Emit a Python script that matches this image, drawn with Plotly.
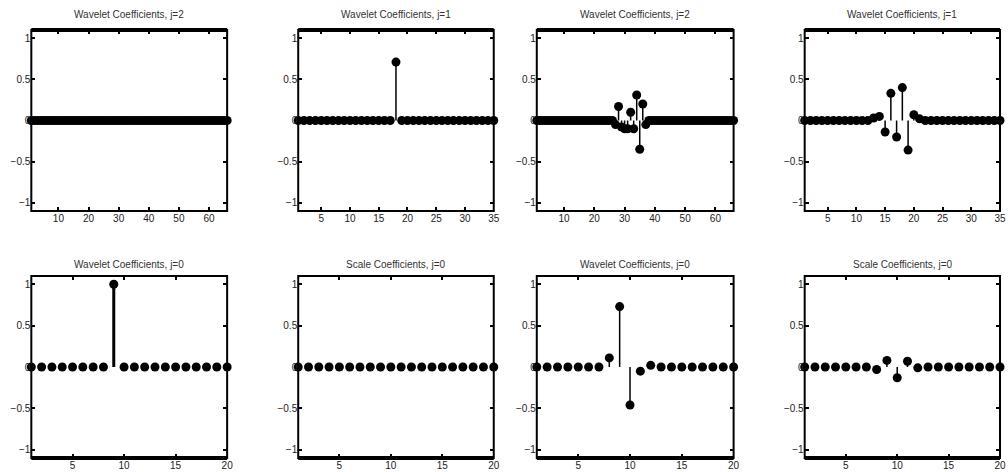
import plotly.graph_objects as go

# ---------------- data ----------------
titles = [
    "Wavelet Coefficients, j=2", "Wavelet Coefficients, j=1",
    "Wavelet Coefficients, j=2", "Wavelet Coefficients, j=1",
    "Wavelet Coefficients, j=0", "Scale Coefficients, j=0",
    "Wavelet Coefficients, j=0", "Scale Coefficients, j=0",
]

w2_a = [0, 0, 0, 0, 0, 0, 0, 0, 0, 0, 0, 0, 0, 0, 0, 0, 0, 0, 0, 0, 0, 0,
        0, 0, 0, 0, 0, 0, 0, 0, 0, 0, 0, 0, 0, 0, 0, 0, 0, 0, 0, 0, 0, 0,
        0, 0, 0, 0, 0, 0, 0, 0, 0, 0, 0, 0, 0, 0, 0, 0, 0, 0, 0, 0, 0, 0]
w1_a = [0, 0, 0, 0, 0, 0, 0, 0, 0, 0, 0, 0, 0, 0, 0, 0, 0, 0.71, 0, 0,
        0, 0, 0, 0, 0, 0, 0, 0, 0, 0, 0, 0, 0, 0, 0]
w2_b = [0, 0, 0, 0, 0, 0, 0, 0, 0, 0, 0, 0, 0, 0, 0, 0, 0, 0, 0, 0, 0, 0,
        0, 0, 0, 0, -0.05, 0.17, -0.08, -0.1, -0.1, 0.1, -0.1, 0.31, -0.35, 0.2, -0.05, 0, 0, 0, 0, 0, 0, 0,
        0, 0, 0, 0, 0, 0, 0, 0, 0, 0, 0, 0, 0, 0, 0, 0, 0, 0, 0, 0, 0, 0]
w1_b = [0, 0, 0, 0, 0, 0, 0, 0, 0, 0, 0, 0, 0.03, 0.05, -0.14, 0.33, -0.2, 0.4, -0.36, 0.07,
        0.02, 0, 0, 0, 0, 0, 0, 0, 0, 0, 0, 0, 0, 0, 0]
w0_a = [0, 0, 0, 0, 0, 0, 0, 0, 1.0, 0, 0, 0, 0, 0, 0, 0, 0, 0, 0, 0]
s0_a = [0, 0, 0, 0, 0, 0, 0, 0, 0, 0, 0, 0, 0, 0, 0, 0, 0, 0, 0, 0]
w0_b = [0, 0, 0, 0, 0, 0, 0, 0.11, 0.73, -0.46, -0.05, 0.02, 0, 0, 0, 0, 0, 0, 0, 0]
s0_b = [0, 0, 0, 0, 0, 0, 0, -0.03, 0.08, -0.13, 0.07, -0.01, 0, 0, 0, 0, 0, 0, 0, 0]

series = [w2_a, w1_a, w2_b, w1_b, w0_a, s0_a, w0_b, s0_b]
xticks = [
    [10, 20, 30, 40, 50, 60], [5, 10, 15, 20, 25, 30, 35],
    [10, 20, 30, 40, 50, 60], [5, 10, 15, 20, 25, 30, 35],
    [5, 10, 15, 20], [5, 10, 15, 20], [5, 10, 15, 20], [5, 10, 15, 20],
]
yticks = [-1, -0.5, 0, 0.5, 1]

# ---------------- layout geometry ----------------
W, H = 1008, 472
col_px = [(31.5, 228.5), (300, 496.7), (540, 738), (809.5, 1006)]
row_px = [(30, 211), (276, 458)]
title_gap = [16, 12]
stem_w = [1.5, 1.5, 1.5, 1.5, 3, 1.5, 1.5, 1.5]

fig = go.Figure()
layout = dict(
    width=W, height=H, margin=dict(l=0, r=0, t=0, b=0),
    paper_bgcolor="white", plot_bgcolor="white", showlegend=False,
    font=dict(family="Liberation Sans, Arial, sans-serif", size=10, color="#222"),
)
annotations = []
shapes = []

for k, vals in enumerate(series):
    r, c = divmod(k, 4)
    xs = list(range(1, len(vals) + 1))
    ax = "" if k == 0 else str(k + 1)
    xa, ya = "x" + ax, "y" + ax

    sx, sy = [], []
    for x, v in zip(xs, vals):
        if v != 0:
            sx += [x, x, None]
            sy += [0, v, None]
    fig.add_trace(go.Scatter(x=sx, y=sy, mode="lines", xaxis=xa, yaxis=ya,
                             line=dict(color="black", width=stem_w[k]),
                             hoverinfo="skip", cliponaxis=False))
    fig.add_trace(go.Scatter(x=xs, y=vals, mode="markers", xaxis=xa, yaxis=ya,
                             marker=dict(symbol="circle", size=9, color="black"),
                             cliponaxis=False))

    x0, x1 = col_px[c]
    y0, y1 = row_px[r]
    xd = [x0 / W, x1 / W]
    yd = [1 - y1 / H, 1 - y0 / H]
    common = dict(showline=False, mirror="allticks",
                  ticks="inside", ticklen=4, tickwidth=1.5, tickcolor="black",
                  showgrid=False, zeroline=False,
                  tickfont=dict(size=10, color="#222"))
    layout["xaxis" + ax] = dict(domain=xd, anchor=ya, range=[1, len(vals)],
                                tickvals=xticks[k], **common)
    layout["yaxis" + ax] = dict(domain=yd, anchor=xa, range=[-1.1, 1.1],
                                tickvals=yticks, **common)

    annotations.append(dict(text=titles[k], xref="paper", yref="paper",
                            x=(x0 + x1) / 2 / W, y=1 - (y0 - title_gap[r]) / H,
                            xanchor="center", yanchor="middle", showarrow=False,
                            font=dict(size=10, color="#333")))
    # axes frame
    shapes.append(dict(type="rect", xref=xa + " domain", yref=ya + " domain",
                       x0=0, x1=1, y0=0, y1=1, layer="above",
                       line=dict(color="black", width=2)))
    # thicker outer edge (top for upper row, bottom for lower row)
    ey = 1 if r == 0 else 0
    shapes.append(dict(type="line", xref=xa + " domain", yref=ya + " domain",
                       x0=0, x1=1, y0=ey, y1=ey, layer="above",
                       line=dict(color="black", width=4)))

layout["annotations"] = annotations
layout["shapes"] = shapes
fig.update_layout(**layout)
fig.write_html("out.html")
